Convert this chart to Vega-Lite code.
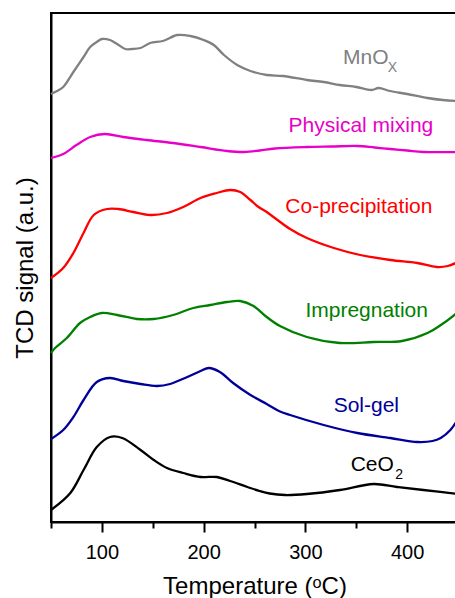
{
  "$schema": "https://vega.github.io/schema/vega-lite/v6.json",
  "width": 407,
  "height": 509,
  "autosize": {"type": "none"},
  "padding": {"left": 51, "top": 13, "right": 0, "bottom": 76},
  "background": "white",
  "config": {
    "font": "Liberation Sans",
    "view": {"stroke": "black", "strokeWidth": 2},
    "axis": {"domainColor": "black", "domainWidth": 2, "tickColor": "black", "tickWidth": 2, "labelColor": "black", "titleColor": "black", "grid": false, "labelFont": "Liberation Sans", "titleFont": "Liberation Sans", "titleFontWeight": "normal"}
  },
  "datasets": {
    "curves": [
      {"series": "MnOx", "T": 50, "s": 428}, {"series": "MnOx", "T": 56, "s": 431}, {"series": "MnOx", "T": 62, "s": 435}, {"series": "MnOx", "T": 72, "s": 450}, {"series": "MnOx", "T": 82, "s": 465}, {"series": "MnOx", "T": 88.5, "s": 475}, {"series": "MnOx", "T": 95, "s": 480}, {"series": "MnOx", "T": 100, "s": 483}, {"series": "MnOx", "T": 108, "s": 482}, {"series": "MnOx", "T": 115, "s": 478}, {"series": "MnOx", "T": 123, "s": 473}, {"series": "MnOx", "T": 130, "s": 473}, {"series": "MnOx", "T": 138, "s": 474}, {"series": "MnOx", "T": 147.5, "s": 479}, {"series": "MnOx", "T": 160, "s": 481}, {"series": "MnOx", "T": 174, "s": 487}, {"series": "MnOx", "T": 187, "s": 486}, {"series": "MnOx", "T": 200, "s": 482}, {"series": "MnOx", "T": 210, "s": 477}, {"series": "MnOx", "T": 220, "s": 467}, {"series": "MnOx", "T": 233, "s": 457}, {"series": "MnOx", "T": 246, "s": 451}, {"series": "MnOx", "T": 262, "s": 447}, {"series": "MnOx", "T": 278, "s": 446}, {"series": "MnOx", "T": 301.5, "s": 442}, {"series": "MnOx", "T": 318, "s": 440}, {"series": "MnOx", "T": 334, "s": 437}, {"series": "MnOx", "T": 350, "s": 435}, {"series": "MnOx", "T": 365, "s": 432}, {"series": "MnOx", "T": 372, "s": 434}, {"series": "MnOx", "T": 383, "s": 431}, {"series": "MnOx", "T": 400, "s": 428}, {"series": "MnOx", "T": 420, "s": 424}, {"series": "MnOx", "T": 435, "s": 422}, {"series": "MnOx", "T": 450, "s": 421},
      {"series": "Physical", "T": 50, "s": 364}, {"series": "Physical", "T": 62, "s": 368}, {"series": "Physical", "T": 75, "s": 377}, {"series": "Physical", "T": 88.5, "s": 385}, {"series": "Physical", "T": 103, "s": 388}, {"series": "Physical", "T": 121, "s": 385}, {"series": "Physical", "T": 144, "s": 382}, {"series": "Physical", "T": 170, "s": 379}, {"series": "Physical", "T": 197, "s": 375}, {"series": "Physical", "T": 223, "s": 371}, {"series": "Physical", "T": 240, "s": 370}, {"series": "Physical", "T": 255, "s": 371.5}, {"series": "Physical", "T": 270, "s": 373.5}, {"series": "Physical", "T": 301.5, "s": 375}, {"series": "Physical", "T": 326, "s": 375.5}, {"series": "Physical", "T": 351, "s": 376}, {"series": "Physical", "T": 368, "s": 374.5}, {"series": "Physical", "T": 383.5, "s": 373}, {"series": "Physical", "T": 400, "s": 371.5}, {"series": "Physical", "T": 416, "s": 370}, {"series": "Physical", "T": 450, "s": 370},
      {"series": "Coprec", "T": 50, "s": 244}, {"series": "Coprec", "T": 62, "s": 254}, {"series": "Coprec", "T": 72, "s": 269}, {"series": "Coprec", "T": 82, "s": 289}, {"series": "Coprec", "T": 92, "s": 307}, {"series": "Coprec", "T": 105, "s": 313}, {"series": "Coprec", "T": 116, "s": 313}, {"series": "Coprec", "T": 131, "s": 310}, {"series": "Coprec", "T": 147.5, "s": 307}, {"series": "Coprec", "T": 164, "s": 309}, {"series": "Coprec", "T": 180, "s": 315}, {"series": "Coprec", "T": 197, "s": 324}, {"series": "Coprec", "T": 213, "s": 329}, {"series": "Coprec", "T": 226, "s": 332}, {"series": "Coprec", "T": 236, "s": 330}, {"series": "Coprec", "T": 246, "s": 322}, {"series": "Coprec", "T": 254, "s": 315}, {"series": "Coprec", "T": 262, "s": 310}, {"series": "Coprec", "T": 270, "s": 304}, {"series": "Coprec", "T": 285, "s": 293}, {"series": "Coprec", "T": 301.5, "s": 284}, {"series": "Coprec", "T": 328, "s": 274}, {"series": "Coprec", "T": 354, "s": 267}, {"series": "Coprec", "T": 383.5, "s": 262}, {"series": "Coprec", "T": 410, "s": 259}, {"series": "Coprec", "T": 429, "s": 255}, {"series": "Coprec", "T": 440, "s": 256}, {"series": "Coprec", "T": 450, "s": 260},
      {"series": "Impreg", "T": 50, "s": 169}, {"series": "Impreg", "T": 54, "s": 174}, {"series": "Impreg", "T": 65.5, "s": 184}, {"series": "Impreg", "T": 78.5, "s": 199}, {"series": "Impreg", "T": 88.5, "s": 205}, {"series": "Impreg", "T": 100, "s": 209}, {"series": "Impreg", "T": 115, "s": 207}, {"series": "Impreg", "T": 134.5, "s": 203}, {"series": "Impreg", "T": 151, "s": 203}, {"series": "Impreg", "T": 170, "s": 207}, {"series": "Impreg", "T": 190, "s": 214}, {"series": "Impreg", "T": 206.5, "s": 217}, {"series": "Impreg", "T": 223, "s": 220}, {"series": "Impreg", "T": 236, "s": 221}, {"series": "Impreg", "T": 249, "s": 216}, {"series": "Impreg", "T": 262, "s": 205}, {"series": "Impreg", "T": 275, "s": 196}, {"series": "Impreg", "T": 301.5, "s": 185}, {"series": "Impreg", "T": 334, "s": 179}, {"series": "Impreg", "T": 367, "s": 180}, {"series": "Impreg", "T": 395, "s": 181}, {"series": "Impreg", "T": 420, "s": 189}, {"series": "Impreg", "T": 436, "s": 199}, {"series": "Impreg", "T": 450, "s": 210},
      {"series": "Solgel", "T": 50, "s": 83}, {"series": "Solgel", "T": 62, "s": 92}, {"series": "Solgel", "T": 72, "s": 105}, {"series": "Solgel", "T": 82, "s": 122}, {"series": "Solgel", "T": 95, "s": 140}, {"series": "Solgel", "T": 108, "s": 144}, {"series": "Solgel", "T": 121, "s": 141}, {"series": "Solgel", "T": 138, "s": 138}, {"series": "Solgel", "T": 154, "s": 136}, {"series": "Solgel", "T": 167, "s": 138}, {"series": "Solgel", "T": 184, "s": 145}, {"series": "Solgel", "T": 197, "s": 151}, {"series": "Solgel", "T": 205, "s": 154}, {"series": "Solgel", "T": 216, "s": 150}, {"series": "Solgel", "T": 229, "s": 139}, {"series": "Solgel", "T": 246, "s": 127}, {"series": "Solgel", "T": 262, "s": 118}, {"series": "Solgel", "T": 274, "s": 111}, {"series": "Solgel", "T": 285, "s": 107}, {"series": "Solgel", "T": 318, "s": 97}, {"series": "Solgel", "T": 351, "s": 89}, {"series": "Solgel", "T": 383.5, "s": 84}, {"series": "Solgel", "T": 410, "s": 80}, {"series": "Solgel", "T": 425, "s": 81}, {"series": "Solgel", "T": 433, "s": 84}, {"series": "Solgel", "T": 442.5, "s": 92}, {"series": "Solgel", "T": 450, "s": 103},
      {"series": "CeO2", "T": 50, "s": 12}, {"series": "CeO2", "T": 69, "s": 29}, {"series": "CeO2", "T": 82, "s": 52}, {"series": "CeO2", "T": 95, "s": 75}, {"series": "CeO2", "T": 108, "s": 85}, {"series": "CeO2", "T": 120, "s": 84}, {"series": "CeO2", "T": 138, "s": 72}, {"series": "CeO2", "T": 151, "s": 62}, {"series": "CeO2", "T": 164, "s": 54}, {"series": "CeO2", "T": 180, "s": 49}, {"series": "CeO2", "T": 197, "s": 45}, {"series": "CeO2", "T": 213, "s": 45}, {"series": "CeO2", "T": 226, "s": 41}, {"series": "CeO2", "T": 243, "s": 35}, {"series": "CeO2", "T": 255, "s": 31}, {"series": "CeO2", "T": 265, "s": 28.5}, {"series": "CeO2", "T": 280, "s": 27}, {"series": "CeO2", "T": 301.5, "s": 28}, {"series": "CeO2", "T": 334, "s": 32}, {"series": "CeO2", "T": 367, "s": 38}, {"series": "CeO2", "T": 390, "s": 35}, {"series": "CeO2", "T": 416, "s": 32}, {"series": "CeO2", "T": 450, "s": 28}
    ],
    "labels": [
      {"series": "MnOx", "label": "MnO", "T": 337, "s": 458},
      {"series": "Physical", "label": "Physical mixing", "T": 283.5, "s": 390},
      {"series": "Coprec", "label": "Co-precipitation", "T": 280.3, "s": 309},
      {"series": "Impreg", "label": "Impregnation", "T": 300, "s": 205},
      {"series": "Solgel", "label": "Sol-gel", "T": 327.8, "s": 110},
      {"series": "CeO2", "label": "CeO", "T": 344.5, "s": 51}
    ],
    "subs": [
      {"series": "MnOx", "label": "X", "T": 381, "s": 450},
      {"series": "CeO2", "label": "2", "T": 388.4, "s": 43}
    ]
  },
  "layer": [
    {
      "data": {"name": "curves"},
      "mark": {"type": "line", "strokeWidth": 2.3, "interpolate": "catmull-rom"},
      "encoding": {
        "x": {"field": "T", "type": "quantitative", "scale": {"domain": [50, 450], "nice": false, "zero": false},
          "axis": {"values": [50, 100, 150, 200, 250, 300, 350, 400, 450], "labelExpr": "datum.value % 100 === 0 ? datum.label : ''",
            "tickSize": {"condition": {"test": "datum.value % 100 === 0", "value": 10}, "value": 6},
            "labelFontSize": 20, "labelPadding": 10, "title": "Temperature (ᵒC)", "titleFontSize": 24, "titlePadding": 12}},
        "y": {"field": "s", "type": "quantitative", "scale": {"domain": [0, 509], "nice": false, "zero": false},
          "axis": {"ticks": false, "labels": false, "title": "TCD signal (a.u.)", "titleFontSize": 24, "titlePadding": 14}},
        "color": {"field": "series", "type": "nominal", "legend": null,
          "scale": {"domain": ["MnOx", "Physical", "Coprec", "Impreg", "Solgel", "CeO2"], "range": ["#808080", "#E800C8", "#FF0000", "#008000", "#000099", "#000000"]}},
        "detail": {"field": "series"}
      }
    },
    {
      "data": {"name": "labels"},
      "mark": {"type": "text", "align": "left", "baseline": "alphabetic", "fontSize": 21, "font": "Liberation Sans"},
      "encoding": {
        "x": {"field": "T", "type": "quantitative"},
        "y": {"field": "s", "type": "quantitative"},
        "text": {"field": "label"},
        "color": {"field": "series", "type": "nominal", "legend": null}
      }
    },
    {
      "data": {"name": "subs"},
      "mark": {"type": "text", "align": "left", "baseline": "alphabetic", "fontSize": 14, "font": "Liberation Sans"},
      "encoding": {
        "x": {"field": "T", "type": "quantitative"},
        "y": {"field": "s", "type": "quantitative"},
        "text": {"field": "label"},
        "color": {"field": "series", "type": "nominal", "legend": null}
      }
    }
  ]
}
